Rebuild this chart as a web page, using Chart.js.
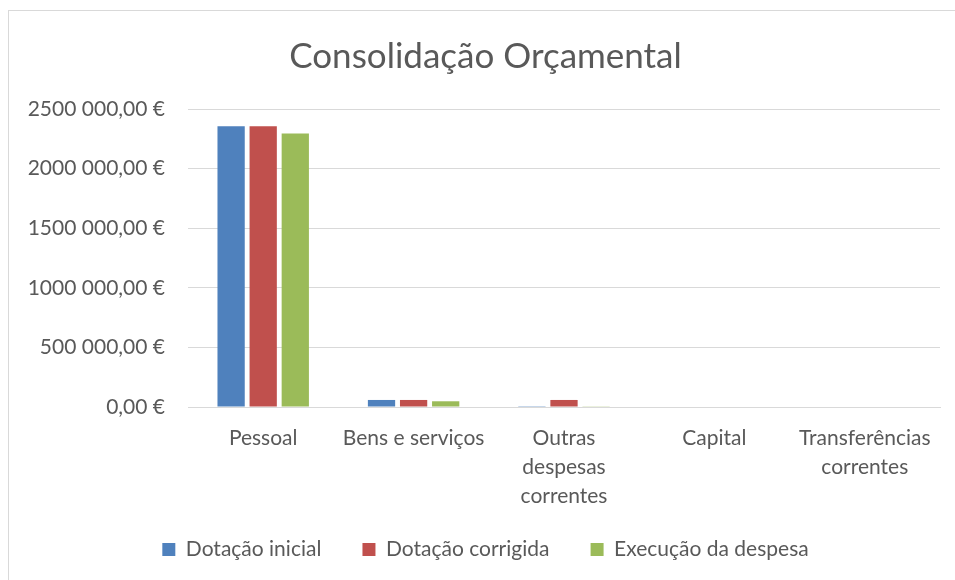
<!DOCTYPE html>
<html>
<head>
<meta charset="utf-8">
<script src="https://cdn.jsdelivr.net/npm/chart.js@4"></script>
<style>
  html, body { margin: 0; padding: 0; background: #fff; overflow: hidden; }
  #box { position: absolute; left: 8px; top: 10px; width: 955px; height: 580px;
         border: 1px solid #d9d9d9; box-sizing: border-box; }
  #chart { display: block; }
</style>
</head>
<body>
<div id="box"><canvas id="chart" width="953" height="578"></canvas></div>
<script>
const categories = ['Pessoal', 'Bens e serviços', ['Outras', 'despesas', 'correntes'], 'Capital', ['Transferências', 'correntes']];
const dotacaoInicial   = [2356000, 59000, 1500, 0, 0];
const dotacaoCorrigida = [2356000, 59000, 59000, 0, 0];
const execucaoDespesa  = [2295000, 48000, 2500, 0, 0];
const yTicks = [0, 500000, 1000000, 1500000, 2000000, 2500000];

const FONT = 'Lato, "Open Sans", sans-serif';
const GREY = '#595959';

const fmtEuro = v => {
  if (v < 1000) return v.toFixed(2).replace('.', ',') + ' €';
  const th = Math.floor(v / 1000);
  const rest = String(v % 1000).padStart(3, '0');
  return th + ' ' + rest + ',00 €';
};

new Chart(document.getElementById('chart'), {
  type: 'bar',
  data: {
    labels: categories,
    datasets: [
      { label: 'Dotação inicial', data: dotacaoInicial, backgroundColor: '#4f81bd' },
      { label: 'Dotação corrigida', data: dotacaoCorrigida, backgroundColor: '#c0504d' },
      { label: 'Execução da despesa', data: execucaoDespesa, backgroundColor: '#9bbb59' }
    ]
  },
  options: {
    responsive: false,
    animation: false,
    layout: { padding: { left: 0, right: 0, top: 0, bottom: 19 } },
    datasets: { bar: { categoryPercentage: 0.64, barPercentage: 0.85 } },
    scales: {
      x: {
        afterFit: axis => { axis.height = 112; },
        grid: { display: false, drawTicks: false },
        border: { display: true, color: '#d9d9d9', width: 1 },
        ticks: { color: GREY, font: { family: FONT, size: 21, lineHeight: 1.38 }, maxRotation: 0, autoSkip: false, padding: 17 }
      },
      y: {
        min: 0, max: 2500000,
        afterBuildTicks: axis => { axis.ticks = yTicks.map(v => ({ value: v })); },
        afterFit: axis => { axis.width = 179; },
        grid: { color: '#d9d9d9', drawTicks: false, lineWidth: 1 },
        border: { display: false },
        ticks: { color: GREY, font: { family: FONT, size: 21 }, padding: 23, callback: v => fmtEuro(v) }
      },
      // empty right margin
      yRight: {
        position: 'right',
        afterFit: axis => { axis.width = 22; },
        grid: { display: false, drawTicks: false },
        border: { display: false },
        ticks: { display: false }
      }
    },
    plugins: {
      title: {
        display: true,
        text: 'Consolidação Orçamental',
        color: GREY,
        font: { family: FONT, size: 35, weight: 'normal' },
        padding: { top: 25, bottom: 31 }
      },
      legend: {
        position: 'bottom',
        labels: {
          color: GREY, font: { family: FONT, size: 21 }, boxWidth: 13, boxHeight: 13, padding: 20,
          generateLabels: chart => {
            const items = Chart.defaults.plugins.legend.labels.generateLabels(chart);
            items.forEach((it, i) => { if (i < items.length - 1) it.text += '\u2003 '; });
            return items;
          }
        }
      },
      tooltip: { enabled: false }
    }
  }
});
</script>
</body>
</html>
